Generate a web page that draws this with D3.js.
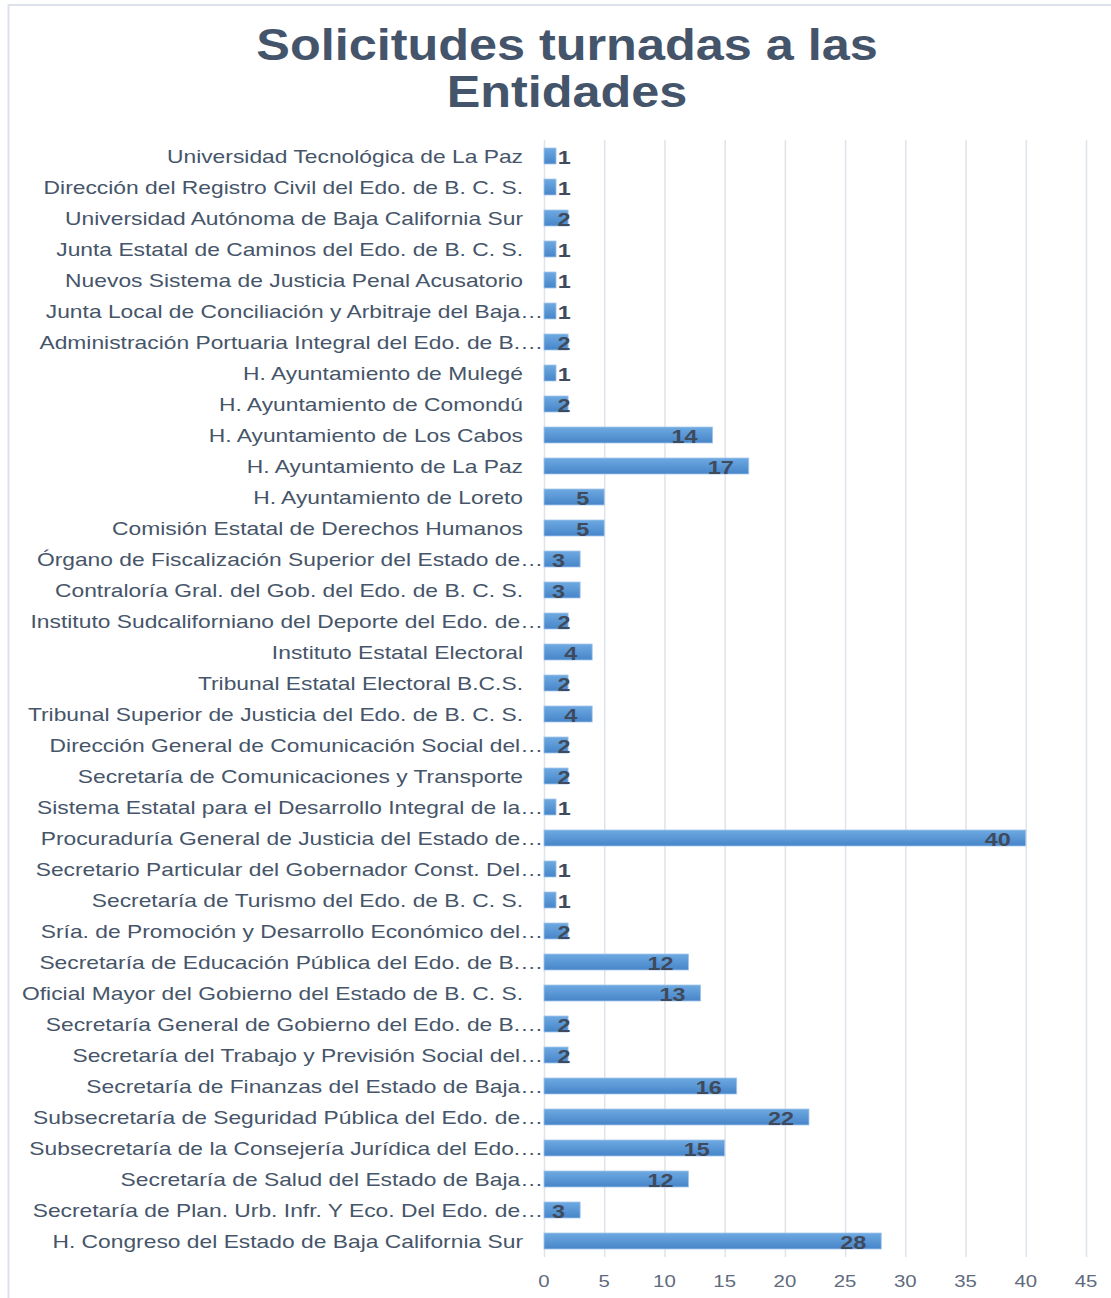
<!DOCTYPE html>
<html>
<head>
<meta charset="utf-8">
<script src="https://cdn.jsdelivr.net/npm/d3@7"></script>
<style>
  html, body { margin: 0; padding: 0; background: #fff; }
  svg { display: block; }
</style>
</head>
<body>
<div id="chart"></div>
<script>
// Categories top to bottom, as shown on the chart
const entidades = [
    'Universidad Tecnológica de La Paz',
    'Dirección del Registro Civil del Edo. de B. C. S.',
    'Universidad Autónoma de Baja California Sur',
    'Junta Estatal de Caminos del Edo. de B. C. S.',
    'Nuevos Sistema de Justicia Penal Acusatorio',
    'Junta Local de Conciliación y Arbitraje del Baja…',
    'Administración Portuaria Integral del Edo. de B.…',
    'H. Ayuntamiento de Mulegé',
    'H. Ayuntamiento de Comondú',
    'H. Ayuntamiento de Los Cabos',
    'H. Ayuntamiento de La Paz',
    'H. Ayuntamiento de Loreto',
    'Comisión Estatal de Derechos Humanos',
    'Órgano de Fiscalización Superior del Estado de…',
    'Contraloría Gral. del Gob. del Edo. de B. C. S.',
    'Instituto Sudcaliforniano del Deporte del Edo. de…',
    'Instituto Estatal Electoral',
    'Tribunal Estatal Electoral B.C.S.',
    'Tribunal Superior de Justicia del Edo. de B. C. S.',
    'Dirección General de Comunicación Social del…',
    'Secretaría de Comunicaciones y Transporte',
    'Sistema Estatal para el Desarrollo Integral de la…',
    'Procuraduría General de Justicia del Estado de…',
    'Secretario Particular del Gobernador Const. Del…',
    'Secretaría de Turismo del Edo. de B. C. S.',
    'Sría. de Promoción y Desarrollo Económico del…',
    'Secretaría de Educación Pública del Edo. de B.…',
    'Oficial Mayor del Gobierno del Estado de B. C. S.',
    'Secretaría General de Gobierno del Edo. de B.…',
    'Secretaría del Trabajo y Previsión Social del…',
    'Secretaría de Finanzas del Estado de Baja…',
    'Subsecretaría de Seguridad Pública del Edo. de…',
    'Subsecretaría de la Consejería Jurídica del Edo.…',
    'Secretaría de Salud del Estado de Baja…',
    'Secretaría de Plan. Urb. Infr. Y Eco. Del Edo. de…',
    'H. Congreso del Estado de Baja California Sur'
];

const solicitudes = [
    1, 1, 2, 1, 1, 1, 2, 1, 2, 14,
    17, 5, 5, 3, 3, 2, 4, 2, 4, 2,
    2, 1, 40, 1, 1, 2, 12, 13, 2, 2,
    16, 22, 15, 12, 3, 28
];

const xTicks = [0, 5, 10, 15, 20, 25, 30, 35, 40, 45];

const titleLines = ['Solicitudes turnadas a las', 'Entidades'];

(function() {
    'use strict';

    const W = 1111, H = 1298;
    const STRETCH = 1.2; // the original picture is stretched sideways
    const textColor = '#44546a';
    const font = '"Liberation Sans", Arial, sans-serif';

    const svg = d3.select('#chart').append('svg')
        .attr('width', W)
        .attr('height', H);

    const defs = svg.append('defs');
    const grad = defs.append('linearGradient')
        .attr('id', 'barGrad')
        .attr('x1', 0).attr('y1', 0).attr('x2', 0).attr('y2', 1);
    grad.append('stop').attr('offset', '0%').attr('stop-color', '#6ea9e1');
    grad.append('stop').attr('offset', '100%').attr('stop-color', '#4685c9');

    // chart frame
    svg.append('rect')
        .attr('x', 8.5).attr('y', 5)
        .attr('width', W + 20).attr('height', H + 20)
        .attr('fill', '#fff')
        .attr('stroke', '#dde2ea')
        .attr('stroke-width', 2);

    const x = d3.scaleLinear().domain([0, 45]).range([544, 1086]);
    const y = d3.scaleBand()
        .domain(entidades)
        .range([140.5, 1256.5])
        .paddingInner(15 / 31)
        .paddingOuter(15 / 62);

    const data = entidades.map((name, i) => ({ name, value: solicitudes[i] }));

    // helper: text stretched horizontally like the source
    function stretchedText(g, tx, ty, str, opts) {
        const k = opts.stretch || STRETCH;
        return g.append('text')
            .attr('transform', `translate(${tx},${ty}) scale(${k},1)`)
            .attr('text-anchor', opts.anchor || 'start')
            .attr('font-family', font)
            .attr('font-size', opts.size)
            .attr('font-weight', opts.weight || 'normal')
            .attr('fill', opts.fill || textColor)
            .text(str);
    }

    // title
    const titleG = svg.append('g');
    titleLines.forEach((line, i) => {
        stretchedText(titleG, 567, 60 + i * 47, line,
            { anchor: 'middle', size: 44, weight: 'bold', stretch: 1.145 });
    });

    // gridlines
    svg.append('g')
        .selectAll('line')
        .data(xTicks)
        .enter()
        .append('line')
        .attr('x1', d => x(d) + 0.5).attr('x2', d => x(d) + 0.5)
        .attr('y1', 140).attr('y2', 1257)
        .attr('stroke', '#dfe3ea')
        .attr('stroke-width', 1.5);

    // tick labels
    const tickG = svg.append('g');
    xTicks.forEach(t => {
        stretchedText(tickG, x(t), 1287, t, { anchor: 'middle', size: 17, fill: '#5f6b7d' });
    });

    // bars
    svg.append('g')
        .selectAll('rect')
        .data(data)
        .enter()
        .append('rect')
        .attr('x', x(0))
        .attr('y', d => y(d.name))
        .attr('width', d => x(d.value) - x(0))
        .attr('height', y.bandwidth())
        .attr('fill', 'url(#barGrad)')
        .attr('stroke', '#a4c6ea')
        .attr('stroke-width', 0.8);

    // category labels
    const catG = svg.append('g');
    data.forEach(d => {
        const truncated = d.name.endsWith('…');
        stretchedText(catG, truncated ? 543 : 523, y(d.name) + y.bandwidth() / 2 + 6.5, d.name,
            { anchor: 'end', size: 17.5, stretch: 1.305, fill: '#465569' });
    });

    // value labels (inside end, or pushed out when the bar is too short)
    const valG = svg.append('g');
    const VAL_STRETCH = 1.3;
    data.forEach(d => {
        const t = stretchedText(valG, 0, 0, d.value,
            { anchor: 'end', size: 18, weight: 'bold', fill: '#3f4a5c', stretch: VAL_STRETCH });
        const w = t.node().getBBox().width * VAL_STRETCH;
        let right = x(d.value) - 15;
        if (right - w < x(0) + 8) right = x(0) + 20 + w / 2;
        t.attr('transform', `translate(${right},${y(d.name) + y.bandwidth() / 2 + 7.5}) scale(${VAL_STRETCH},1)`);
    });
})();
</script>
</body>
</html>
